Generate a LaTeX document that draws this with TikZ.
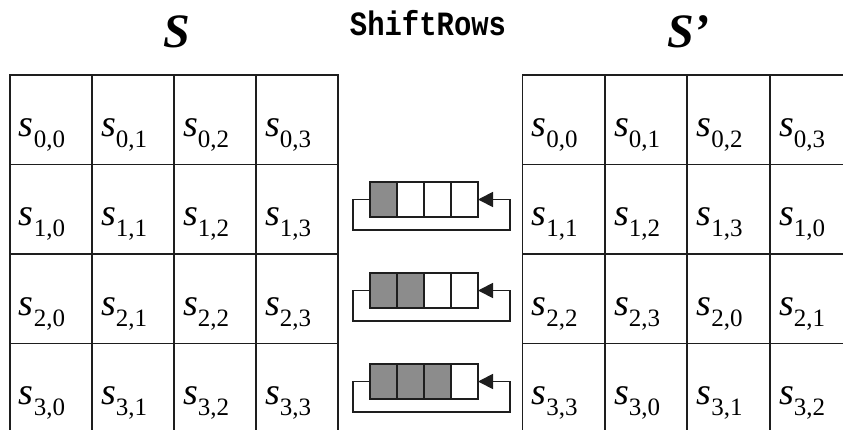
\documentclass[tikz,border=0pt]{standalone}
\usepackage{fontspec}
\setmainfont{Liberation Serif}
\setmonofont{Liberation Mono}
\usepackage{tikz}
\usetikzlibrary{arrows.meta,positioning}
\definecolor{gridInk}{HTML}{1E1E1E}
\definecolor{shiftGray}{HTML}{8C8C8C}

% elemento del estado: s con subindice fila,columna
\newcommand{\stateel}[2]{{\fontsize{38}{40}\selectfont\itshape s}\raisebox{-11pt}{\fontsize{25}{27}\selectfont #1,#2}}

\begin{document}
\begin{tikzpicture}[
  x=1pt,y=-1pt,
  every node/.style={inner sep=0pt,outer sep=0pt},
  cell/.style={draw=gridInk,line width=1.6pt,minimum width=82pt,minimum height=89.5pt,anchor=north west},
  entry/.style={anchor=base west},
  regbox/.style={draw=gridInk,line width=1.5pt,fill=white,minimum width=27pt,minimum height=35pt},
  moved/.style={regbox,fill=shiftGray},
  loopline/.style={-{Triangle[length=15pt,width=15pt]},line width=1.8pt,draw=gridInk},
  title/.style={anchor=base,font=\fontsize{48}{50}\selectfont\bfseries\itshape}
]
\useasboundingbox (0,0) rectangle (843,429);

% Titulos
\node[title] (tS) at (177,47) {S};
\node[title,anchor=base west] (tSp) at (667,47) {S'};
\node[anchor=base] (tShift) at (428,35) {\scalebox{0.85}[1]{\fontsize{34}{36}\selectfont\ttfamily\bfseries ShiftRows}};

% Estado de entrada S
\foreach \r in {0,...,3}
  \foreach \c in {0,...,3}{
    \node[cell] (L-\r-\c) at ({10+82*\c},{75+89.5*\r}) {};
    \node[entry] (l-\r-\c) at ([xshift=9pt,yshift=-61pt]L-\r-\c.north west) {\stateel{\r}{\c}};
  }

% Estado de salida S' (fila r rotada r posiciones)
\foreach \r in {0,...,3}
  \foreach \c in {0,...,3}{
    \pgfmathtruncatemacro{\src}{mod(\c+\r,4)}
    \node[cell] (R-\r-\c) at ({522.5+82.5*\c},{75+89.5*\r}) {};
    \node[entry] (rr-\r-\c) at ([xshift=9pt,yshift=-61pt]R-\r-\c.north west) {\stateel{\r}{\src}};
  }

% Registros de desplazamiento, filas 1 a 3
\foreach \r in {1,2,3}{
  \foreach \k in {0,...,3}{
    \ifnum\k<\r
      \node[moved] (g\r-\k) at ({383.5+27*\k},{108.5+91*\r}) {};
    \else
      \node[regbox] (g\r-\k) at ({383.5+27*\k},{108.5+91*\r}) {};
    \fi
  }
  \draw[loopline] (g\r-0.west) -- ++(-17,0) |- ([xshift=32pt,yshift=-30.5pt]g\r-3.east)
    -- ([xshift=32pt]g\r-3.east) -- (g\r-3.east);
}
\end{tikzpicture}
\end{document}
